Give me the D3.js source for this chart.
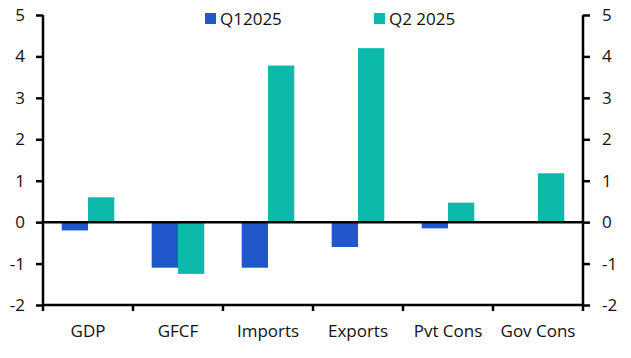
<!DOCTYPE html>
<html>
<head>
<meta charset="utf-8">
<script src="https://cdn.jsdelivr.net/npm/d3@7"></script>
<style>
  body { margin: 0; background: #fff; }
  text { font-family: "Open Sans", "Noto Sans", sans-serif; fill: #111; }
</style>
</head>
<body>
<div id="chart"></div>
<script>
var width = 631,
	height = 358;

var categories = ["GDP", "GFCF", "Imports", "Exports", "Pvt Cons", "Gov Cons"];
var seriesNames = ["Q12025", "Q2 2025"];
var q1Values = [-0.2, -1.1, -1.1, -0.6, -0.15, 0];
var q2Values = [0.6, -1.25, 3.78, 4.2, 0.47, 1.18];
var yTicks = [-2, -1, 0, 1, 2, 3, 4, 5];
var colors = ["#2058cc", "#0db9ab"];

var margin = {top: 15, right: 48, bottom: 53, left: 43};

var svg = d3.select("#chart").append("svg")
	.attr("width", width)
	.attr("height", height)

var x = d3.scaleBand()
	.domain(categories)
	.range([margin.left, width - margin.right])

var xInner = d3.scaleBand()
	.domain(seriesNames)
	.range([0, x.bandwidth()])
	.paddingOuter(0.71)

var y = d3.scaleLinear()
	.domain([-2, 5])
	.range([height - margin.bottom, margin.top])

var fmt = function(v){ return String(v) }

var rows = categories.map(function(c, i){
	return {cat: c, values: [q1Values[i], q2Values[i]]}
})

// bars
var group = svg.selectAll(".cat")
	.data(rows)
	.enter()
	.append("g")
	.attr("transform", function(d){ return "translate(" + x(d.cat) + ",0)" })

group.selectAll("rect")
	.data(function(d){
		return d.values.map(function(v, j){ return {name: seriesNames[j], value: v, idx: j} })
	})
	.enter()
	.append("rect")
	.attr("x", function(d){ return xInner(d.name) })
	.attr("width", xInner.bandwidth())
	.attr("y", function(d){ return y(Math.max(0, d.value)) })
	.attr("height", function(d){ return Math.abs(y(d.value) - y(0)) })
	.attr("fill", function(d){ return colors[d.idx] })

// zero line
svg.append("line")
	.attr("x1", margin.left)
	.attr("x2", width - margin.right)
	.attr("y1", y(0))
	.attr("y2", y(0))
	.attr("stroke", "#000")
	.attr("stroke-width", 2.5)

// left axis
var left = svg.append("g")
	.attr("transform", "translate(" + margin.left + ",0)")
	.call(d3.axisLeft(y).tickValues(yTicks).tickFormat(fmt).tickSize(7).tickPadding(11))
// right axis
var right = svg.append("g")
	.attr("transform", "translate(" + (width - margin.right) + ",0)")
	.call(d3.axisRight(y).tickValues(yTicks).tickFormat(fmt).tickSize(7).tickPadding(12))
// bottom axis
var bottom = svg.append("g")
	.attr("transform", "translate(0," + y(-2) + ")")
	.call(d3.axisBottom(x).tickSize(0).tickPadding(20))

bottom.selectAll(".tick")
	.append("line")
	.attr("x1", -x.bandwidth() / 2)
	.attr("x2", -x.bandwidth() / 2)
	.attr("y1", 0)
	.attr("y2", 6)
	.attr("stroke", "#000")
	.attr("stroke-width", 2.5)
bottom.append("line")
	.attr("x1", width - margin.right)
	.attr("x2", width - margin.right)
	.attr("y1", 0)
	.attr("y2", 6)
	.attr("stroke", "#000")
	.attr("stroke-width", 2.5)

svg.selectAll(".domain")
	.attr("stroke", "#000")
	.attr("stroke-width", 2.5)
svg.selectAll(".tick line")
	.attr("stroke", "#000")
	.attr("stroke-width", 2.5)
svg.selectAll(".tick text")
	.style("font-size", "17px")
	.attr("fill", "#111")
left.select(".domain").attr("d", "M0," + y(5) + "V" + y(-2))
right.select(".domain").attr("d", "M0," + y(5) + "V" + y(-2))
bottom.select(".domain").attr("d", "M" + margin.left + ",0H" + (width - margin.right))

// legend
var legendX = [205, 374];
var legend = svg.selectAll(".legend")
	.data(seriesNames)
	.enter()
	.append("g")
	.attr("transform", function(d, i){ return "translate(" + legendX[i] + ",13)" })

legend.append("rect")
	.attr("width", 11)
	.attr("height", 11)
	.attr("fill", function(d, i){ return colors[i] })

legend.append("text")
	.attr("x", 15)
	.attr("y", 12)
	.style("font-size", "17px")
	.text(function(d){ return d })
</script>
</body>
</html>
